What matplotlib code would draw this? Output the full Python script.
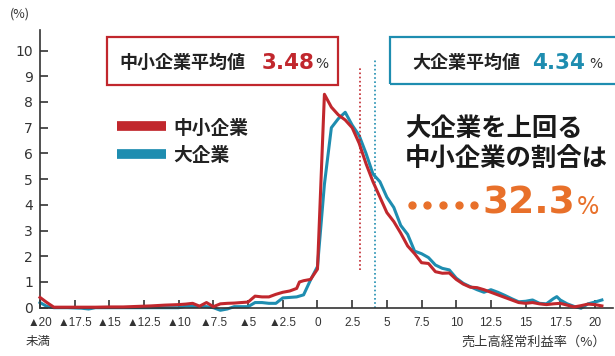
import matplotlib
matplotlib.use('Agg')
import matplotlib.pyplot as plt
from matplotlib.patches import Rectangle
from matplotlib.lines import Line2D

plt.rcParams['font.family'] = ['Noto Sans CJK JP', 'DejaVu Sans']

# data (profit ratio distribution, %)
x_red = [-20, -19.5, -19, -18, -17, -16, -15, -14, -13, -12, -11, -10, -9.5, -9, -8.5, -8,
         -7.5, -7, -6.5, -6, -5.5, -5, -4.5, -4, -3.5, -3, -2.5, -2, -1.5, -1.3, -1, -0.5,
         0, 0.5, 1, 1.5, 2, 2.5, 3, 3.5, 4, 4.5, 5, 5.5, 6, 6.5, 7, 7.5, 8, 8.5, 9, 9.5,
         10, 10.5, 11, 11.5, 12, 12.5, 13, 13.5, 14, 14.5, 15, 15.5, 16, 16.5, 17, 17.5,
         18, 18.5, 19, 19.5, 20, 20.5]
y_red = [0.4, 0.2, 0.02, 0.02, 0.02, 0.02, 0.03, 0.03, 0.05, 0.07, 0.1, 0.12, 0.14, 0.17, 0.06, 0.2,
         0.04, 0.15, 0.17, 0.18, 0.2, 0.22, 0.45, 0.42, 0.42, 0.52, 0.6, 0.65, 0.75, 1.0, 1.05, 1.1,
         1.5, 8.3, 7.8, 7.5, 7.3, 7.0, 6.4, 5.6, 4.9, 4.3, 3.7, 3.35, 2.9, 2.4, 2.1, 1.75, 1.72, 1.4, 1.34, 1.35,
         1.1, 0.92, 0.8, 0.78, 0.7, 0.6, 0.5, 0.4, 0.3, 0.2, 0.17, 0.2, 0.15, 0.12, 0.15, 0.17,
         0.1, 0.03, 0.08, 0.14, 0.12, 0.07]

x_blue = [-20, -19.5, -19, -18, -17, -16.5, -16, -14, -12, -10, -9.5, -9, -8.5, -8, -7.5, -7,
          -6.5, -6, -5.5, -5, -4.5, -4, -3.5, -3, -2.5, -2, -1.5, -1, -0.5, 0, 0.5, 1, 1.5,
          2, 2.5, 3, 3.5, 4, 4.5, 5, 5.5, 6, 6.5, 7, 7.5, 8, 8.5, 9, 9.5, 10, 10.5, 11, 11.5,
          12, 12.5, 13, 13.5, 14, 14.5, 15, 15.5, 16, 16.5, 17, 17.25, 17.5, 18, 18.5, 19,
          19.5, 20, 20.5]
y_blue = [0.2, 0.05, 0.0, 0.0, -0.02, -0.05, 0.0, 0.0, 0.0, 0.0, 0.06, 0.05, 0.05, 0.04, 0.0, -0.1,
          -0.05, 0.04, 0.04, 0.04, 0.2, 0.2, 0.17, 0.17, 0.38, 0.4, 0.42, 0.5, 1.08, 1.6, 4.8, 7.0, 7.35,
          7.6, 7.1, 6.7, 6.0, 5.2, 4.9, 4.3, 3.9, 3.2, 2.85, 2.2, 2.1, 1.95, 1.66, 1.53, 1.47, 1.15, 0.95, 0.82, 0.7,
          0.6, 0.7, 0.6, 0.48, 0.35, 0.23, 0.25, 0.3, 0.17, 0.15, 0.35, 0.43, 0.3, 0.15, 0.05, -0.02,
          0.15, 0.22, 0.3]

xticks = [-20, -17.5, -15, -12.5, -10, -7.5, -5, -2.5, 0, 2.5, 5, 7.5, 10, 12.5, 15, 17.5, 20]
xtick_labels = ['▲20', '▲17.5', '▲15', '▲12.5', '▲10', '▲7.5', '▲5', '▲2.5',
                '0', '2.5', '5', '7.5', '10', '12.5', '15', '17.5', '20']
yticks = [0, 1, 2, 3, 4, 5, 6, 7, 8, 9, 10]

red_mean_line = 3.1
blue_mean_line = 4.15

RED = '#c1272d'
BLUE = '#1e8db0'
ORANGE = '#e8702a'
GRAY = '#333333'
NUM_FONT = ['DejaVu Sans']

fig = plt.figure(figsize=(6.15, 3.56), dpi=100)
ax = fig.add_axes([40 / 615, 1 - 307.7 / 356, 573 / 615, 277.7 / 356])

ax.plot(x_red, y_red, color=RED, lw=2.2, label='中小企業', clip_on=False, zorder=3)
ax.plot(x_blue, y_blue, color=BLUE, lw=2.2, label='大企業', clip_on=False, zorder=2)

ax.plot([red_mean_line, red_mean_line], [1.45, 9.4], color=RED, lw=1.2, ls=(0, (1, 1.5)))
ax.plot([blue_mean_line, blue_mean_line], [0, 9.65], color=BLUE, lw=1.2, ls=(0, (1, 1.5)))

ax.set_xlim(-20, 21.3)
ax.set_ylim(0, 10.8)
ax.set_xticks(xticks)
ax.set_xticklabels(xtick_labels, family=['Liberation Sans', 'DejaVu Sans'], fontsize=8.5, color=GRAY)
ax.set_yticks(yticks)
ax.set_yticklabels([str(v) for v in yticks], family=NUM_FONT, fontsize=10, color=GRAY)
ax.tick_params(direction='in', length=6, width=1.2, color=GRAY)
ax.tick_params(axis='x', pad=7)
ax.tick_params(axis='y', pad=5)
for s in ['top', 'right']:
    ax.spines[s].set_visible(False)
for s in ['left', 'bottom']:
    ax.spines[s].set_color(GRAY)
    ax.spines[s].set_linewidth(1.2)

leg = ax.legend(loc='upper left', bbox_to_anchor=(100 / 615, 1 - 102 / 356),
                bbox_transform=fig.transFigure, frameon=False, fontsize=13.5,
                handlelength=2.6, handleheight=1.0, labelspacing=0.45, handletextpad=0.4)
for line in leg.get_lines():
    line.set_linewidth(7)
    line.set_solid_capstyle('butt')
for t in leg.get_texts():
    t.set_fontweight('bold')
    t.set_color('#222222')

# labels
fig.text(10 / 615, 1 - 14 / 356, '(%)', fontsize=9, color=GRAY, va='center')
fig.text(38 / 615, 1 - 341 / 356, '未満', fontsize=9, color=GRAY, ha='center', va='center')
fig.text(606 / 615, 1 - 342 / 356, '売上高経常利益率（%）', fontsize=9.5, color=GRAY,
         ha='right', va='center')

# mean boxes
fig.patches.append(Rectangle((107 / 615, 1 - 85 / 356), 231 / 615, 48 / 356,
                             transform=fig.transFigure, fill=False, ec=RED, lw=1.6))
fig.patches.append(Rectangle((390 / 615, 1 - 84 / 356), 240 / 615, 47 / 356,
                             transform=fig.transFigure, fill=False, ec=BLUE, lw=1.6, clip_on=False))
fig.text(119 / 615, 1 - 62 / 356, '中小企業平均値', fontsize=13, fontweight='bold',
         color='#222222', va='center')
fig.text(262 / 615, 1 - 63 / 356, '3.48', fontsize=15.5, fontweight='bold', color=RED, va='center',
         family=NUM_FONT)
fig.text(315 / 615, 1 - 64 / 356, '%', fontsize=10, color=GRAY, va='center', family=NUM_FONT)
fig.text(412 / 615, 1 - 62 / 356, '大企業平均値', fontsize=13, fontweight='bold',
         color='#222222', va='center')
fig.text(532 / 615, 1 - 63 / 356, '4.34', fontsize=15.5, fontweight='bold', color=BLUE, va='center',
         family=NUM_FONT)
fig.text(589 / 615, 1 - 64 / 356, '%', fontsize=10, color=GRAY, va='center', family=NUM_FONT)

# share text
fig.text(405 / 615, 1 - 128 / 356, '大企業を上回る', fontsize=18.3, fontweight='bold',
         color='#1a1a1a', va='center')
fig.text(405 / 615, 1 - 158 / 356, '中小企業の割合は', fontsize=18.3, fontweight='bold',
         color='#1a1a1a', va='center')
dots_x = [412, 427.5, 443, 458.5, 474]
fig.lines.append(Line2D([v / 615 for v in dots_x], [1 - 205 / 356] * 5, transform=fig.transFigure,
                        ls='none', marker='o', ms=5, color=ORANGE, mec=ORANGE))
fig.text(482 / 615, 1 - 203 / 356, '32.3', fontsize=27, fontweight='bold', color=ORANGE,
         va='center', family=NUM_FONT)
fig.text(577 / 615, 1 - 207 / 356, '%', fontsize=17, color=ORANGE,
         va='center', family=NUM_FONT)

fig.savefig('out.png', dpi=100)
